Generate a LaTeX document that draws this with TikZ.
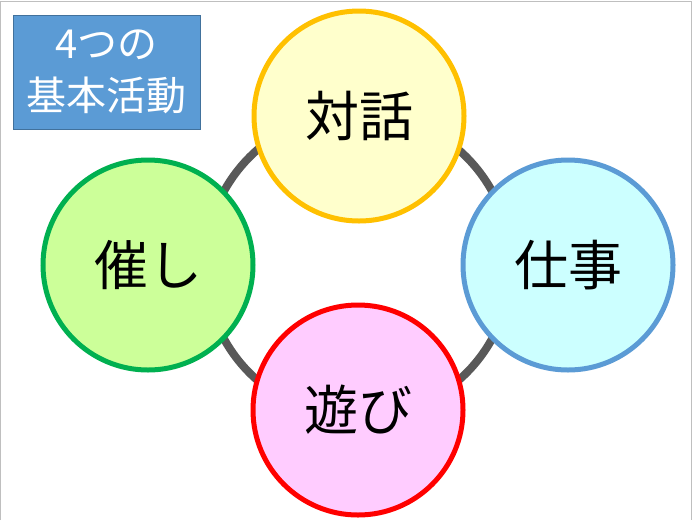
\documentclass[tikz,border=0pt]{standalone}
\usepackage{fontspec}
\usepackage{xcolor}
\usepackage{tikz}
\usetikzlibrary{positioning}
\newfontfamily\jpfont{Noto Sans CJK JP}
\definecolor{ringgray}{HTML}{595959}
\definecolor{framegray}{HTML}{BFBFBF}
\definecolor{titlefill}{HTML}{5B9BD5}
\definecolor{titleline}{HTML}{41719C}

\begin{document}
\begin{tikzpicture}[x=1pt, y=-1pt,
  act/.style={circle, line width=5pt, minimum size=210pt, inner sep=0pt,
              font=\jpfont\fontsize{54}{60}\selectfont},
  title/.style={rectangle, fill=titlefill, draw=titleline, line width=1pt,
                minimum width=187pt, minimum height=114pt, align=center,
                text=white, font=\jpfont\fontsize{40}{52}\selectfont},
  ring/.style={draw=ringgray, line width=8pt}
]
\useasboundingbox (0,0) rectangle (692,520);
\draw[framegray, line width=1pt] (0.5,520) -- (0.5,1) -- (691,1) -- (691,520);
\coordinate (hub) at (358,265);
\draw[ring] (hub) circle[radius=153pt];
\node[title] (T) at (106.5,72) {4つの\\基本活動};
\node[act, fill={rgb,255:red,255;green,255;blue,204}, draw={rgb,255:red,255;green,192;blue,0}] (dialog) at (359,116) {対話};
\node[act, fill={rgb,255:red,204;green,255;blue,255}, draw=titlefill] (work) at (568,265) {仕事};
\node[act, fill={rgb,255:red,255;green,204;blue,255}, draw=red] (play) at (358,410) {遊び};
\node[act, fill={rgb,255:red,204;green,255;blue,153}, draw={rgb,255:red,0;green,176;blue,80}] (event) at (148,265) {催し};
\end{tikzpicture}
\end{document}
